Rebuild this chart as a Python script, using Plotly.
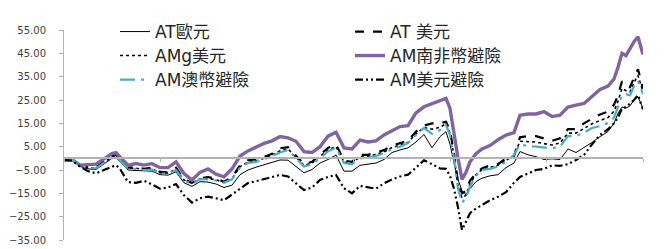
import plotly.graph_objects as go

# trading-day index (x) for every sampled point
day = [0, 8, 16, 24, 32, 40, 48, 52, 56, 64,
       72, 80, 88, 96, 104, 112, 120, 128, 136, 144,
       152, 160, 168, 176, 184, 192, 200, 208, 216, 224,
       232, 240, 248, 256, 264, 272, 280, 288, 296, 304,
       312, 320, 328, 336, 344, 352, 360, 368, 376, 382,
       386, 390, 394, 398, 402, 406, 412, 418, 426, 434,
       442, 450, 456, 464, 472, 480, 488, 496, 504, 512,
       520, 528, 536, 544, 550, 554, 558, 562, 566, 570,
       574, 579]

at_eur = [-1.0, -0.7, -3.5, -4.5, -4.8, -2.5, 0.0, 0.3, -1.5, -5.0,
          -5.2, -5.5, -5.5, -7.0, -7.2, -5.8, -10.5, -12.0, -10.0, -10.2,
          -11.0, -12.5, -11.5, -7.0, -5.0, -3.8, -2.8, -2.0, -0.7, -0.8,
          -3.5, -6.2, -4.8, -2.0, -0.5, 1.4, -5.5, -5.5, -3.0, -2.5,
          -2.0, -0.5, 2.5, 3.6, 4.5, 7.0, 10.2, 4.5, 9.3, 11.4,
          6.0, -2.0, -9.0, -14.0, -15.5, -13.0, -10.0, -8.5, -7.5, -7.0,
          -4.0, -2.0, 2.9, 1.5, 0.7, -0.5, -0.2, -0.5, 4.0, 2.5,
          4.5, 6.8, 9.3, 11.5, 15.0, 19.3, 22.0, 21.5, 22.5, 25.0,
          26.4, 21.4]

at_usd = [-0.8, 0.0, -3.0, -3.8, -3.8, -1.5, 1.0, 1.5, -0.5, -4.0,
          -3.8, -4.5, -4.0, -5.8, -6.0, -4.0, -9.0, -10.5, -8.5, -8.0,
          -8.8, -10.0, -8.2, -3.0, -0.8, -0.5, 0.5, 2.0, 4.3, 4.8,
          1.0, -2.5, -1.5, 1.5, 4.5, 6.0, -1.0, -1.5, 1.5, 1.5,
          2.5, 3.5, 5.5, 6.5, 7.5, 11.5, 14.0, 15.0, 15.0, 15.7,
          12.0, 2.0, -10.0, -15.0, -14.0, -9.5, -6.5, -4.3, -3.0, -2.5,
          0.0, 1.0, 9.0, 9.5, 9.5, 8.5, 7.5, 8.6, 12.5, 12.5,
          15.0, 17.0, 18.8, 20.0, 23.0, 27.0, 33.0, 31.0, 30.5, 34.5,
          38.2, 30.0]

amg_usd = [-0.9, -0.3, -3.2, -4.0, -4.1, -1.8, 0.6, 1.1, -0.8, -4.3,
           -4.2, -4.8, -4.5, -6.2, -6.3, -4.6, -9.3, -10.8, -8.8, -8.6,
           -9.2, -10.3, -8.7, -3.6, -1.5, -1.0, 0.0, 1.4, 3.2, 4.0,
           0.4, -3.0, -2.0, 0.7, 3.6, 5.1, -1.6, -2.0, 0.7, 0.8,
           1.6, 2.7, 4.6, 5.6, 6.8, 10.5, 13.2, 12.5, 13.3, 14.8,
           10.8, 1.0, -11.5, -17.0, -15.8, -10.8, -7.0, -4.8, -3.8, -3.0,
           -0.8, 1.2, 7.3, 7.2, 7.0, 6.3, 5.7, 6.6, 10.8, 10.8,
           12.8, 14.8, 16.2, 17.5, 20.2, 24.5, 30.0, 29.0, 28.5, 32.5,
           35.5, 28.5]

am_zar = [-1.0, -0.5, -2.9, -2.8, -2.5, -0.2, 2.0, 2.4, 0.7, -3.0,
          -2.2, -2.9, -2.3, -4.0, -4.0, -1.5, -6.5, -9.3, -6.0, -4.5,
          -6.8, -7.9, -4.5, 1.0, 3.2, 5.0, 6.4, 7.5, 9.3, 8.8,
          7.3, 2.9, 2.5, 5.0, 9.5, 11.2, 4.5, 4.0, 7.8, 7.0,
          7.5, 10.0, 11.8, 13.6, 14.0, 19.5, 22.1, 23.5, 25.0, 25.7,
          21.4, 10.0, 0.0, -9.0, -6.0, -1.5, 2.0, 4.0, 5.5, 8.0,
          10.0, 11.0, 18.5, 19.0, 19.0, 20.0, 17.9, 18.5, 22.0, 22.8,
          23.5, 26.5, 29.5, 31.0, 34.0, 39.0, 45.0, 44.0, 47.0, 50.0,
          52.1, 44.5]

am_aud = [-1.0, -0.5, -3.2, -4.0, -4.3, -2.0, 0.5, 1.0, -1.0, -4.5,
          -4.5, -5.0, -4.8, -6.5, -6.5, -5.0, -9.5, -11.0, -9.0, -9.0,
          -9.5, -10.5, -9.0, -4.0, -2.0, -1.5, -0.5, 1.0, 2.5, 3.6,
          0.0, -3.5, -2.5, 0.0, 3.0, 4.5, -2.0, -2.5, 0.0, 0.3,
          1.0, 2.2, 4.0, 5.0, 6.5, 10.0, 13.0, 10.5, 12.1, 14.3,
          10.0, 0.0, -13.0, -19.0, -17.0, -12.0, -7.5, -5.0, -4.5, -3.5,
          -1.5, 1.5, 6.0, 5.3, 5.0, 4.5, 4.3, 5.0, 9.5, 9.5,
          11.0, 13.0, 13.8, 15.2, 17.5, 22.0, 27.0, 27.5, 27.0, 31.0,
          33.2, 27.5]

am_usd_h = [-0.7, -1.0, -3.6, -5.5, -6.4, -5.0, -3.4, -2.9, -4.5, -10.2,
            -10.5, -9.6, -11.2, -13.0, -12.5, -11.0, -15.8, -19.0, -17.1, -16.4,
            -17.1, -18.0, -15.5, -12.9, -10.6, -9.8, -9.0, -8.0, -7.1, -7.8,
            -10.5, -13.6, -12.5, -9.3, -8.0, -7.1, -12.8, -15.0, -11.8, -12.5,
            -13.0, -10.7, -9.0, -7.8, -7.0, -4.0, -0.8, -2.5, -4.3, -4.5,
            -7.5, -13.0, -21.0, -30.7, -27.0, -23.5, -21.5, -20.0, -18.0, -16.5,
            -14.5, -10.5, -8.0, -6.5, -5.0, -4.5, -3.0, -3.2, -2.5, -0.7,
            1.5, 6.0, 10.0, 12.5, 15.0, 17.5, 21.4, 22.0, 23.5, 25.0,
            27.1, 21.0]

names = ["AT歐元", "AT 美元", "AMg美元", "AM南非幣避險", "AM澳幣避險", "AM美元避險"]
series = [at_eur, at_usd, amg_usd, am_zar, am_aud, am_usd_h]
styles = [
    dict(color="#000000", width=1.0, dash="solid"),
    dict(color="#000000", width=2.2, dash="dash"),
    dict(color="#000000", width=1.6, dash="dot"),
    dict(color="#8064A2", width=3.4, dash="solid"),
    dict(color="#4BACC6", width=2.2, dash="longdashdot"),
    dict(color="#000000", width=2.2, dash="8px,3px,2px,3px,2px,3px"),
]
legend_ids = ["legend", "legend", "legend2", "legend2", "legend3", "legend3"]

fig = go.Figure()
for nm, ys, st, lg in zip(names, series, styles, legend_ids):
    fig.add_trace(go.Scatter(x=day, y=ys, mode="lines", name=nm, line=st,
                             legend=lg))

# the page body has an 8px default margin, so the figure is sized to fit
W, H, OFF = 662, 241, 8
font_main = "DejaVu Sans, Noto Sans CJK TC, sans-serif"
leg_common = dict(orientation="h", xref="container", yref="container",
                  x=107 / W, xanchor="left", yanchor="middle",
                  entrywidth=190, entrywidthmode="pixels", itemwidth=30,
                  bgcolor="rgba(0,0,0,0)", borderwidth=0,
                  font=dict(family=font_main, size=17, color="#262626"))

fig.update_layout(
    width=W, height=H,
    margin=dict(l=56, r=27, t=22, b=9, autoexpand=False),
    paper_bgcolor="white", plot_bgcolor="white",
    showlegend=True,
    legend=dict(leg_common, y=1 - (32 - OFF) / H),
    legend2=dict(leg_common, y=1 - (56 - OFF) / H),
    legend3=dict(leg_common, y=1 - (80 - OFF) / H),
    xaxis=dict(range=[0, 579], showgrid=False, zeroline=False, automargin=False,
               showline=True, linecolor="#b3b3b3", linewidth=1.5,
               anchor="free", position=35 / 90,
               ticks="outside", ticklen=3, tickcolor="#b3b3b3",
               tick0=0, dtick=96.5, showticklabels=False),
    yaxis=dict(range=[-35, 55], tickvals=[-35, -25, -15, -5, 5, 15, 25, 35, 45, 55],
               tickformat=".2f", showgrid=False, zeroline=False, automargin=False,
               showline=True, linecolor="#b3b3b3", linewidth=1,
               ticks="outside", ticklen=4, tickcolor="#b3b3b3",
               ticklabelstandoff=11,
               tickfont=dict(family="DejaVu Sans", size=10, color="#404040")),
)

fig.add_annotation(text="(%)", xref="paper", yref="paper",
                   x=(400 - 64) / 579, y=1 + (30 - 6) / 210,
                   xanchor="center", yanchor="bottom", showarrow=False,
                   font=dict(family=font_main, size=14, color="#3355cc"))

fig.write_html("out.html")
